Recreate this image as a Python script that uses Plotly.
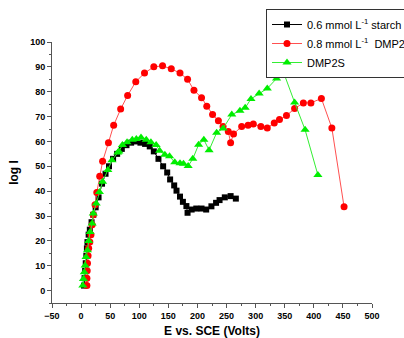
import plotly.graph_objects as go

# 0.6 mmol L-1 starch (black squares)
starch_x = [5, 6, 7, 8, 9, 10, 11, 13, 15, 18, 21, 25, 30, 36, 42, 48, 55, 62, 70, 78, 86, 94, 102, 110,
            118, 125, 133, 141, 148, 153, 160, 164, 170, 175, 181, 183, 190, 198, 207, 215, 224, 232, 238,
            247, 257, 266]
starch_y = [2, 5, 8, 11, 14, 17, 19.5, 22.5, 24.5, 27.5, 30.5, 33.5, 37.5, 43, 47, 50, 53, 55, 57, 58.5,
            59.5, 60, 59.5, 59, 58, 56, 53, 50, 47.5, 44.7, 42.3, 40.2, 37.8, 35.7, 34, 31.3, 32.6, 33, 33,
            32.6, 33.9, 35.3, 36.4, 37.5, 38, 37]

# 0.8 mmol L-1 DMP2 (red circles)
dmp2_x = [10, 10, 10.5, 11, 12, 13, 15, 17, 19, 21, 24, 27, 32, 37, 47, 56, 68, 80, 94, 109, 125, 140,
          155, 170, 183, 194, 207, 216, 226, 236, 244, 253, 257, 262, 276, 287, 296, 309, 320, 332, 341,
          353, 367, 382, 395, 413, 431, 452]
dmp2_y = [2, 5, 8, 11, 14, 17, 19.5, 22.5, 26.5, 30.5, 34.5, 39.5, 46, 52, 59.5, 66.5, 73, 78.5, 84,
          87.5, 90, 90.4, 89.2, 87.5, 85, 80.6, 77.6, 74.2, 70.8, 68.3, 66, 64, 59.5, 63, 66, 66.5, 67,
          66, 65.4, 67.4, 68.8, 70.4, 73.2, 75.5, 75.5, 77.3, 65.4, 33.7]

# DMP2S (green triangles)
dmp2s_x = [3, 4, 5.5, 7, 8.5, 11, 13, 15.5, 19, 21, 26, 31.5, 37, 46, 53, 63, 65, 71, 79, 88, 95, 103,
           112, 120, 129, 135, 144, 152, 161, 170, 176, 184, 192, 202, 211, 220, 233, 244, 259, 273, 282,
           292, 306, 320, 336, 350, 367, 385, 407]
dmp2s_y = [2, 4.7, 7.4, 10.1, 13.5, 16.2, 19.9, 23.6, 27, 31, 35, 39.7, 43.8, 48.5, 52.4, 55.5, 55.9,
           58.6, 59.7, 60.7, 61, 61.6, 60.7, 59.7, 58.6, 56.2, 54.6, 54, 51.6, 51.2, 51, 50.1, 53, 58.7,
           60.7, 56.5, 63.5, 65.2, 70.8, 72.3, 73.5, 77.1, 79.3, 81.3, 85.3, 86.5, 75.7, 64.7, 46.5]

x_ticks = [-50, 0, 50, 100, 150, 200, 250, 300, 350, 400, 450, 500]
y_ticks = [0, 10, 20, 30, 40, 50, 60, 70, 80, 90, 100]

fig = go.Figure()
fig.add_trace(go.Scatter(x=starch_x, y=starch_y, mode="lines+markers",
                         name="0.6 mmol L<sup>-1</sup> starch",
                         line=dict(color="black", width=1),
                         marker=dict(symbol="square", size=6, color="black")))
fig.add_trace(go.Scatter(x=dmp2_x, y=dmp2_y, mode="lines+markers",
                         name="0.8 mmol L<sup>-1</sup>  DMP2",
                         line=dict(color="#ff5050", width=1),
                         marker=dict(symbol="circle", size=7, color="#ff0000")))
fig.add_trace(go.Scatter(x=dmp2s_x, y=dmp2s_y, mode="lines+markers",
                         name="DMP2S",
                         line=dict(color="#33ee33", width=1),
                         marker=dict(symbol="triangle-up", size=8, color="#00ee00")))

axis_common = dict(showgrid=False, zeroline=False, showline=True, linecolor="#555555", linewidth=1,
                   ticks="outside", ticklen=4, tickcolor="#555555", tickwidth=1,
                   tickfont=dict(family="Liberation Sans, Arial", size=9, color="black", weight="bold"),
                   mirror=False)

fig.update_layout(
    width=404, height=338,
    margin=dict(l=52, r=32, t=42, b=35, autoexpand=False),
    paper_bgcolor="white", plot_bgcolor="white",
    font=dict(family="Liberation Sans, Arial", color="black"),
    xaxis=dict(range=[-50, 500], tickvals=x_ticks,
               minor=dict(ticks="outside", ticklen=2, dtick=25, tick0=-50, tickcolor="#555555"),
               title=dict(text="E vs. SCE (Volts)", font=dict(size=12, weight="bold"), standoff=6),
               **axis_common),
    yaxis=dict(range=[-5, 100], tickvals=y_ticks,
               minor=dict(ticks="outside", ticklen=2, dtick=5, tick0=0, tickcolor="#555555"),
               title=dict(text="log I", font=dict(size=12, weight="bold"), standoff=8),
               **axis_common),
    legend=dict(x=266 / 404, y=1 - 9 / 338, xref="container", yref="container",
                xanchor="left", yanchor="top",
                bordercolor="#333333", borderwidth=1, bgcolor="white",
                font=dict(family="Liberation Sans, Arial", size=11, color="black"),
                tracegroupgap=0, itemwidth=30),
    showlegend=True,
)

fig.write_html("out.html", config={"displayModeBar": False},
               post_script="document.body.style.margin='0';document.body.style.overflow='hidden';")
